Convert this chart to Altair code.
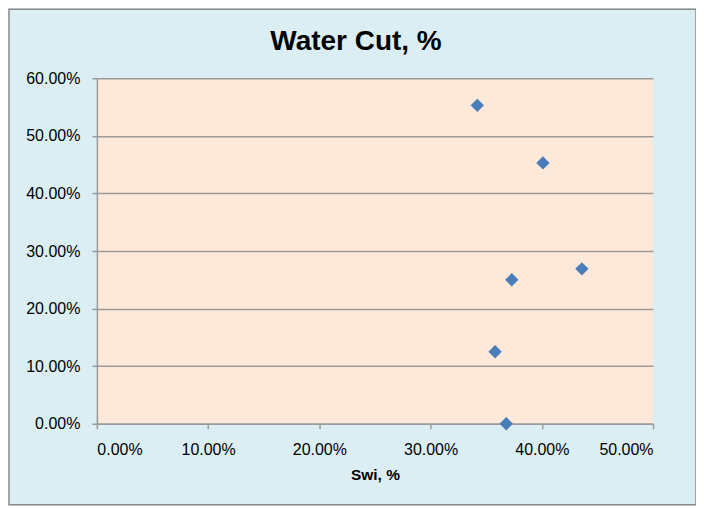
import altair as alt
import pandas as pd

swi = [0.342, 0.401, 0.373, 0.436, 0.358, 0.368]
water_cut = [0.553, 0.453, 0.250, 0.269, 0.125, 0.000]

df = pd.DataFrame({"swi": swi, "wc": water_cut})

FONT = "Liberation Sans, Arial, sans-serif"

border = alt.Chart(pd.DataFrame({"a": [0]})).mark_rect(
    fill="transparent", stroke="#8c8c8c", strokeWidth=1.5, clip=False
).encode(
    x=alt.value(-88), x2=alt.value(600), y=alt.value(-69), y2=alt.value(427)
)

points = alt.Chart(df).mark_point(
    shape="diamond", filled=True, size=180, color="#4a7ebb", opacity=1
).encode(
    x=alt.X("swi:Q", title="Swi, %",
            scale=alt.Scale(domain=[0, 0.5], nice=False),
            axis=alt.Axis(format=".2%", values=[0, 0.1, 0.2, 0.3, 0.4, 0.5], grid=False,
                          titleFontWeight="bold", titleFontSize=15.5, titlePadding=10,
                          labelPadding=13)),
    y=alt.Y("wc:Q", title=None,
            scale=alt.Scale(domain=[0, 0.6], nice=False),
            axis=alt.Axis(format=".2%", values=[0, 0.1, 0.2, 0.3, 0.4, 0.5, 0.6], grid=True,
                          labelPadding=12)),
)

chart = alt.layer(border, points).properties(
    width=557, height=346,
    title=alt.TitleParams("Water Cut, %", fontSize=28, fontWeight="bold", font=FONT,
                          color="black", anchor="middle", dx=-19, offset=0, dy=47),
    autosize=alt.AutoSizeParams(type="none"),
    padding={"left": 89, "top": 70, "right": 43, "bottom": 82},
    background="#dbeef4",
).configure_view(
    fill="#fde9d9", stroke=None
).configure_axis(
    labelFont=FONT, titleFont=FONT, labelFontSize=16, labelColor="black", titleColor="black",
    domainColor="#9a9a9a", domainWidth=1.5, tickColor="#9a9a9a", tickWidth=1.5, tickSize=5,
    gridColor="#a09a96", gridWidth=1.5, gridOpacity=1,
)

chart.save("out.html", embed_options={"renderer": "svg", "actions": False})
